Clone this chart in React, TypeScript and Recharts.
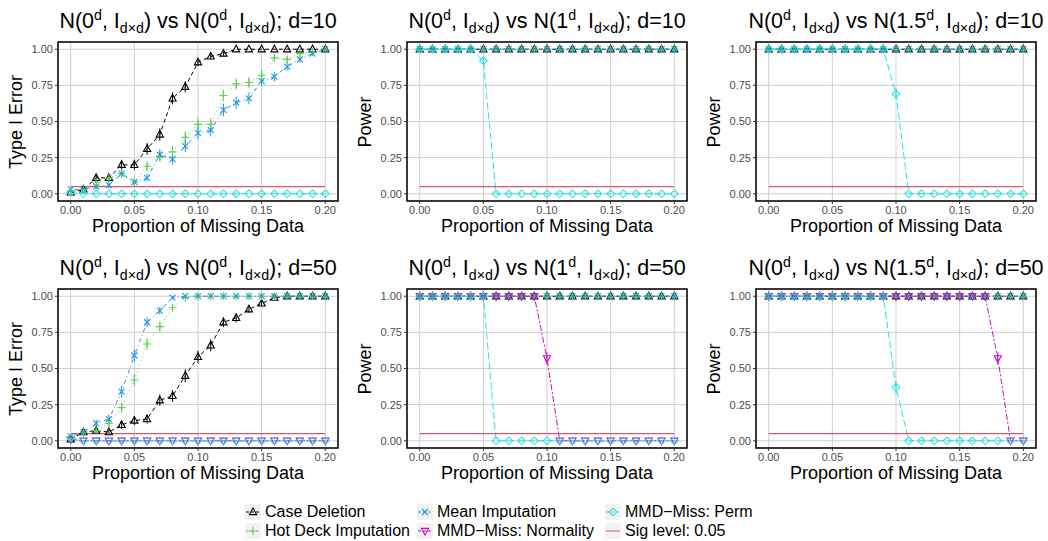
import React from 'react';
import { LineChart, Line, XAxis, YAxis, CartesianGrid, ErrorBar, ReferenceArea } from 'recharts';

// proportion of missing data
const missing = [0, 0.01, 0.02, 0.03, 0.04, 0.05, 0.06, 0.07, 0.08, 0.09, 0.1, 0.11, 0.12, 0.13, 0.14, 0.15, 0.16, 0.17, 0.18, 0.19, 0.2];

// d = 10, null (type I error)
const d10NullCase = [0.01, 0.03, 0.11, 0.11, 0.2, 0.2, 0.31, 0.41, 0.66, 0.74, 0.91, 0.95, 0.97, 1, 1, 1, 1, 1, 1, 1, 1];
const d10NullHot = [0.02, 0.03, 0.08, 0.11, 0.14, 0.08, 0.19, 0.26, 0.29, 0.39, 0.48, 0.48, 0.68, 0.76, 0.77, 0.82, 0.94, 0.93, 0.97, 0.98, 1];
const d10NullMean = [0.03, 0.03, 0.05, 0.06, 0.14, 0.08, 0.11, 0.27, 0.24, 0.33, 0.42, 0.44, 0.58, 0.63, 0.66, 0.78, 0.81, 0.88, 0.93, 0.97, 1];
const d10NullPerm = [0.01, 0, 0, 0, 0, 0, 0, 0, 0, 0, 0, 0, 0, 0, 0, 0, 0, 0, 0, 0, 0];

// d = 10, mean shift 1
const d10Mu1Case = [1, 1, 1, 1, 1, 1, 1, 1, 1, 1, 1, 1, 1, 1, 1, 1, 1, 1, 1, 1, 1];
const d10Mu1Hot = [1, 1, 1, 1, 1, 1, 1, 1, 1, 1, 1, 1, 1, 1, 1, 1, 1, 1, 1, 1, 1];
const d10Mu1Mean = [1, 1, 1, 1, 1, 1, 1, 1, 1, 1, 1, 1, 1, 1, 1, 1, 1, 1, 1, 1, 1];
const d10Mu1Perm = [1, 1, 1, 1, 1, 0.92, 0, 0, 0, 0, 0, 0, 0, 0, 0, 0, 0, 0, 0, 0, 0];

// d = 10, mean shift 1.5
const d10Mu15Case = [1, 1, 1, 1, 1, 1, 1, 1, 1, 1, 1, 1, 1, 1, 1, 1, 1, 1, 1, 1, 1];
const d10Mu15Hot = [1, 1, 1, 1, 1, 1, 1, 1, 1, 1, 1, 1, 1, 1, 1, 1, 1, 1, 1, 1, 1];
const d10Mu15Mean = [1, 1, 1, 1, 1, 1, 1, 1, 1, 1, 1, 1, 1, 1, 1, 1, 1, 1, 1, 1, 1];
const d10Mu15Perm = [1, 1, 1, 1, 1, 1, 1, 1, 1, 1, 0.69, 0, 0, 0, 0, 0, 0, 0, 0, 0, 0];

// d = 50, null
const d50NullCase = [0.01, 0.06, 0.07, 0.06, 0.11, 0.14, 0.15, 0.28, 0.31, 0.45, 0.58, 0.66, 0.82, 0.85, 0.91, 0.95, 0.99, 1, 1, 1, 1];
const d50NullHot = [0.02, 0.06, 0.07, 0.12, 0.23, 0.42, 0.67, 0.79, 0.92, 0.99, 1, 1, 1, 1, 1, 1, 1, 1, 1, 1, 1];
const d50NullMean = [0.03, 0.06, 0.12, 0.15, 0.34, 0.59, 0.82, 0.9, 0.99, 1, 1, 1, 1, 1, 1, 1, 1, 1, 1, 1, 1];
const d50NullNorm = [0.01, 0, 0, 0, 0, 0, 0, 0, 0, 0, 0, 0, 0, 0, 0, 0, 0, 0, 0, 0, 0];
const d50NullPerm = [0.02, 0, 0, 0, 0, 0, 0, 0, 0, 0, 0, 0, 0, 0, 0, 0, 0, 0, 0, 0, 0];

// d = 50, mean shift 1
const d50Mu1Case = [1, 1, 1, 1, 1, 1, 1, 1, 1, 1, 1, 1, 1, 1, 1, 1, 1, 1, 1, 1, 1];
const d50Mu1Hot = [1, 1, 1, 1, 1, 1, 1, 1, 1, 1, 1, 1, 1, 1, 1, 1, 1, 1, 1, 1, 1];
const d50Mu1Mean = [1, 1, 1, 1, 1, 1, 1, 1, 1, 1, 1, 1, 1, 1, 1, 1, 1, 1, 1, 1, 1];
const d50Mu1Norm = [1, 1, 1, 1, 1, 1, 1, 1, 1, 1, 0.57, 0, 0, 0, 0, 0, 0, 0, 0, 0, 0];
const d50Mu1Perm = [1, 1, 1, 1, 1, 1, 0, 0, 0, 0, 0, 0, 0, 0, 0, 0, 0, 0, 0, 0, 0];

// d = 50, mean shift 1.5
const d50Mu15Case = [1, 1, 1, 1, 1, 1, 1, 1, 1, 1, 1, 1, 1, 1, 1, 1, 1, 1, 1, 1, 1];
const d50Mu15Hot = [1, 1, 1, 1, 1, 1, 1, 1, 1, 1, 1, 1, 1, 1, 1, 1, 1, 1, 1, 1, 1];
const d50Mu15Mean = [1, 1, 1, 1, 1, 1, 1, 1, 1, 1, 1, 1, 1, 1, 1, 1, 1, 1, 1, 1, 1];
const d50Mu15Norm = [1, 1, 1, 1, 1, 1, 1, 1, 1, 1, 1, 1, 1, 1, 1, 1, 1, 1, 0.57, 0, 0];
const d50Mu15Perm = [1, 1, 1, 1, 1, 1, 1, 1, 1, 1, 0.37, 0, 0, 0, 0, 0, 0, 0, 0, 0, 0];

const SIG_LEVEL = 0.05;
const N_SIM = 500; // replications behind each rejection rate (for the 95% bars)

const xTicks = [0, 0.05, 0.1, 0.15, 0.2];
const yTicks = [0, 0.25, 0.5, 0.75, 1];

const FONT = '"Liberation Sans", Arial, Helvetica, sans-serif';

type Shape = 'tri' | 'plus' | 'x' | 'tridown' | 'diamond' | 'none';

const SERIES: { key: string; name: string; color: string; dash?: string; shape: Shape }[] = [
  { key: 'case', name: 'Case Deletion', color: '#000000', dash: '4 3', shape: 'tri' },
  { key: 'hot', name: 'Hot Deck Imputation', color: '#61D04F', dash: '1 3', shape: 'plus' },
  { key: 'mean', name: 'Mean Imputation', color: '#2297E6', dash: '1 3 4 3', shape: 'x' },
  { key: 'norm', name: 'MMD\u2212Miss: Normality', color: '#CD0BBC', dash: '6 2 2 2', shape: 'tridown' },
  { key: 'perm', name: 'MMD\u2212Miss: Perm', color: '#28E2E5', dash: '7 3', shape: 'diamond' },
  { key: 'sig', name: 'Sig level: 0.05', color: '#DF536B', shape: 'none' },
];

function marker(shape: Shape, color: string, cx: number, cy: number, k?: any) {
  const s = { fill: 'none', stroke: color, strokeWidth: 1.1 };
  if (shape === 'tri')
    return <polygon key={k} points={`${cx},${cy - 4} ${cx - 3.6},${cy + 2.6} ${cx + 3.6},${cy + 2.6}`} {...s} />;
  if (shape === 'tridown')
    return <polygon key={k} points={`${cx},${cy + 4} ${cx - 3.6},${cy - 2.6} ${cx + 3.6},${cy - 2.6}`} {...s} />;
  if (shape === 'diamond')
    return <polygon key={k} points={`${cx},${cy - 3.8} ${cx + 3.8},${cy} ${cx},${cy + 3.8} ${cx - 3.8},${cy}`} {...s} />;
  if (shape === 'plus')
    return <path key={k} d={`M${cx - 4},${cy}H${cx + 4}M${cx},${cy - 4}V${cy + 4}`} {...s} />;
  if (shape === 'x')
    return <path key={k} d={`M${cx - 3},${cy - 3}L${cx + 3},${cy + 3}M${cx - 3},${cy + 3}L${cx + 3},${cy - 3}`} {...s} />;
  return <g key={k} />;
}

const ci = (p: number) => 1.96 * Math.sqrt((p * (1 - p)) / N_SIM);

type Panel = {
  mu: string;
  d: number;
  ylab: string;
  col: number;
  row: number;
  series: Record<string, number[]>;
};

const panels: Panel[] = [
  { mu: '0', d: 10, ylab: 'Type I Error', col: 0, row: 0, series: { case: d10NullCase, hot: d10NullHot, mean: d10NullMean, perm: d10NullPerm } },
  { mu: '1', d: 10, ylab: 'Power', col: 1, row: 0, series: { case: d10Mu1Case, hot: d10Mu1Hot, mean: d10Mu1Mean, perm: d10Mu1Perm } },
  { mu: '1.5', d: 10, ylab: 'Power', col: 2, row: 0, series: { case: d10Mu15Case, hot: d10Mu15Hot, mean: d10Mu15Mean, perm: d10Mu15Perm } },
  { mu: '0', d: 50, ylab: 'Type I Error', col: 0, row: 1, series: { case: d50NullCase, hot: d50NullHot, mean: d50NullMean, norm: d50NullNorm, perm: d50NullPerm } },
  { mu: '1', d: 50, ylab: 'Power', col: 1, row: 1, series: { case: d50Mu1Case, hot: d50Mu1Hot, mean: d50Mu1Mean, norm: d50Mu1Norm, perm: d50Mu1Perm } },
  { mu: '1.5', d: 50, ylab: 'Power', col: 2, row: 1, series: { case: d50Mu15Case, hot: d50Mu15Hot, mean: d50Mu15Mean, norm: d50Mu15Norm, perm: d50Mu15Perm } },
];

const PLOT_LEFT = [58, 407, 756];
const PLOT_TOP = [42, 289];
const PLOT_W = 280;
const PLOT_H = 159;
const Y_AXIS_W = 50;
const X_AXIS_H = 20;

const supStyle: React.CSSProperties = { fontSize: '0.66em', position: 'relative', top: '-0.55em', lineHeight: 0 };
const subStyle: React.CSSProperties = { fontSize: '0.66em', position: 'relative', top: '0.35em', lineHeight: 0 };

function PanelChart({ p }: { p: Panel }) {
  const left = PLOT_LEFT[p.col];
  const top = PLOT_TOP[p.row];
  const keys = SERIES.filter((s) => s.key === 'sig' || p.series[s.key]);
  const data = missing.map((x, i) => {
    const row: Record<string, number> = { x, sig: SIG_LEVEL };
    Object.keys(p.series).forEach((k) => {
      row[k] = p.series[k][i];
      row[k + 'Err'] = ci(p.series[k][i]);
    });
    return row;
  });

  return (
    <>
      <div
        style={{
          position: 'absolute',
          left: left - 20,
          width: PLOT_W + 40,
          top: top - 33,
          height: 24,
          lineHeight: '24px',
          textAlign: 'center',
          fontSize: 21.5,
          whiteSpace: 'nowrap',
        }}
      >
        N(0<span style={supStyle}>d</span>, I<span style={subStyle}>d×d</span>) vs N({p.mu}
        <span style={supStyle}>d</span>, I<span style={subStyle}>d×d</span>); d={p.d}
      </div>
      <div
        style={{
          position: 'absolute',
          left: left - 42 - 80,
          width: 160,
          top: top + PLOT_H / 2 - 11,
          height: 22,
          lineHeight: '22px',
          textAlign: 'center',
          fontSize: 18,
          transform: 'rotate(-90deg)',
          whiteSpace: 'nowrap',
        }}
      >
        {p.ylab}
      </div>
      <div
        style={{
          position: 'absolute',
          left,
          width: PLOT_W,
          top: top + PLOT_H + 14,
          height: 22,
          lineHeight: '22px',
          textAlign: 'center',
          fontSize: 18,
          whiteSpace: 'nowrap',
        }}
      >
        Proportion of Missing Data
      </div>
      <div style={{ position: 'absolute', left: left - Y_AXIS_W, top: top - 2 }}>
        <LineChart
          width={Y_AXIS_W + PLOT_W + 2}
          height={PLOT_H + X_AXIS_H + 2}
          data={data}
          margin={{ top: 2, right: 2, bottom: 0, left: 0 }}
        >
          <CartesianGrid stroke="#CFCFCF" strokeWidth={1} />
          <XAxis
            dataKey="x"
            type="number"
            domain={[-0.01, 0.21]}
            ticks={xTicks}
            tickFormatter={(v: number) => v.toFixed(2)}
            height={X_AXIS_H}
            axisLine={false}
            tickSize={3}
            tickLine={{ stroke: '#333333' }}
            tick={{ fontSize: 11, fill: '#4D4D4D' }}
            allowDataOverflow
          />
          <YAxis
            type="number"
            domain={[-0.05, 1.05]}
            ticks={yTicks}
            tickFormatter={(v: number) => v.toFixed(2)}
            width={Y_AXIS_W}
            axisLine={false}
            tickSize={3}
            tickLine={{ stroke: '#333333' }}
            tick={{ fontSize: 11, fill: '#4D4D4D' }}
            allowDataOverflow
          />
          {keys.map((s) =>
            s.key === 'sig' ? (
              <Line
                key={s.key}
                dataKey="sig"
                type="linear"
                stroke={s.color}
                strokeWidth={1.2}
                dot={false}
                isAnimationActive={false}
              />
            ) : (
              <Line
                key={s.key}
                dataKey={s.key}
                type="linear"
                stroke={s.color}
                strokeWidth={1}
                strokeDasharray={s.dash}
                dot={(d: any) => marker(s.shape, s.color, d.cx, d.cy, d.index)}
                isAnimationActive={false}
              >
                <ErrorBar dataKey={s.key + 'Err'} width={0} stroke={s.color} strokeWidth={1} direction="y" />
              </Line>
            )
          )}
          <ReferenceArea x1={-0.01} x2={0.21} y1={-0.05} y2={1.05} fill="none" fillOpacity={0} stroke="#000" strokeWidth={1.5} />
        </LineChart>
      </div>
    </>
  );
}

function LegendKey({ s }: { s: (typeof SERIES)[number] }) {
  return (
    <svg width={16} height={16} style={{ display: 'block' }}>
      <rect x={0} y={0} width={16} height={16} fill="#F2F2F2" />
      <line x1={1} x2={15} y1={8} y2={8} stroke={s.color} strokeWidth={1} strokeDasharray={s.dash ? '3 2' : undefined} />
      {marker(s.shape, s.color, 8, 8)}
    </svg>
  );
}

const legendCols = [245, 417, 605];
const legendRows = [512, 531];
const legendLayout = [
  ['case', 'mean', 'perm'],
  ['hot', 'norm', 'sig'],
];

export default function App() {
  return (
    <div
      style={{
        position: 'absolute',
        left: 0,
        top: 0,
        width: 1048,
        height: 541,
        background: '#fff',
        fontFamily: FONT,
        color: '#000',
        overflow: 'hidden',
      }}
    >
      {panels.map((p, i) => (
        <PanelChart key={i} p={p} />
      ))}
      {legendLayout.map((row, r) =>
        row.map((k, c) => {
          const s = SERIES.find((t) => t.key === k)!;
          return (
            <div
              key={k}
              style={{
                position: 'absolute',
                left: legendCols[c],
                top: legendRows[r] - 9,
                height: 18,
                display: 'flex',
                alignItems: 'center',
                gap: 4,
                fontSize: 16,
                whiteSpace: 'nowrap',
              }}
            >
              <LegendKey s={s} />
              <span>{s.name}</span>
            </div>
          );
        })
      )}
    </div>
  );
}
